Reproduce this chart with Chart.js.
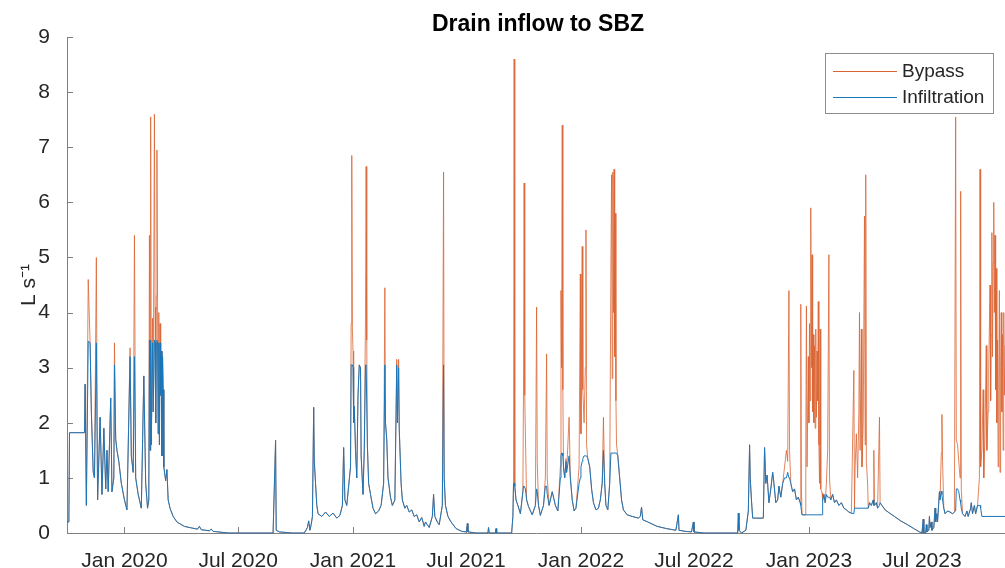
<!DOCTYPE html>
<html>
<head>
<meta charset="utf-8">
<title>Drain inflow to SBZ</title>
<script src="https://cdn.jsdelivr.net/npm/chart.js@4.4.1/dist/chart.umd.min.js"></script>
<style>
    html, body { margin: 0; padding: 0; background: #ffffff; }
    canvas { display: block; }
</style>
</head>
<body>
<canvas id="flowChart" width="1005" height="568"></canvas>
<script>
// Datos de la serie
    // Los días se cuentan desde startDate; cada par es [día, caudal en L/s]
    const startDate = '2019-10-01';
    const lastDay = 1502;

    const tickDates = ['2020-01-01', '2020-07-01', '2021-01-01', '2021-07-01', '2022-01-01', '2022-07-01', '2023-01-01', '2023-07-01'];
    const tickLabels = ['Jan 2020', 'Jul 2020', 'Jan 2021', 'Jul 2021', 'Jan 2022', 'Jul 2022', 'Jan 2023', 'Jul 2023'];

    // Caudal de infiltración
    const infiltration = [
        [0, 0.2], [3, 0.2], [4, 1.82], [28, 1.82], [29, 2.7], [31, 0.5], [34, 3.48], [37, 3.45], [39, 2.2], [42, 1.1],
        [44, 1.0], [47, 3.45], [49, 0.6], [53, 2.1], [56, 0.7], [59, 1.9], [62, 0.8], [64, 1.5], [66, 0.75], [70, 2.45],
        [72, 0.75], [75, 1.0], [76, 3.05], [78, 1.7], [80, 1.5], [83, 1.3], [87, 0.9], [92, 0.6], [96, 0.42], [101, 3.2],
        [103, 1.4], [106, 1.1], [108, 3.2], [110, 1.0], [114, 0.7], [119, 0.45], [123, 2.85], [126, 0.9], [129, 0.45],
        [131, 0.6], [132, 3.5], [133, 1.5], [134, 3.5], [135, 1.6], [137, 3.45], [138, 2.2], [140, 3.5], [141, 3.45],
        [142, 2.0], [143, 3.45], [144, 3.5], [145, 3.45], [146, 1.8], [147, 3.45], [148, 1.6], [149, 3.45], [150, 2.5],
        [151, 3.3], [152, 1.4], [153, 3.2], [154, 2.6], [155, 1.2], [158, 0.95], [160, 1.15], [162, 0.6], [165, 0.45],
        [170, 0.3], [176, 0.2], [188, 0.12], [200, 0.09], [209, 0.07], [212, 0.12], [215, 0.06], [228, 0.04], [231, 0.07],
        [234, 0.03], [250, 0.01], [260, 0],

        [330, 0], [334, 1.68], [335, 0.05], [340, 0.02], [360, 0], [380, 0], [385, 0.1], [387, 0.22], [389, 0.05],
        [391, 0.15], [393, 0.3], [395, 2.28], [396, 1.3], [398, 0.9], [400, 0.5], [402, 0.35], [408, 0.3], [414, 0.38],
        [420, 0.3], [426, 0.36], [432, 0.27], [437, 0.32], [441, 0.5], [443, 1.55], [445, 0.6], [448, 0.5], [454, 1.2],
        [455, 3.05], [456, 3.05], [457, 3.05], [458, 3.0], [459, 2.0], [460, 2.3], [462, 1.5], [464, 1.0], [466, 2.5],
        [468, 3.05], [470, 3.0], [471, 1.4], [474, 0.7], [476, 1.5], [478, 3.05], [479, 3.05], [480, 3.05], [481, 1.6],
        [483, 0.9], [486, 0.7], [490, 0.45], [494, 0.35], [499, 0.4], [503, 0.5], [507, 0.9], [509, 3.05], [510, 2.0],
        [512, 1.7], [514, 1.0], [518, 0.65], [521, 0.5], [525, 0.6], [528, 3.05], [529, 2.0], [531, 3.0], [532, 1.9],
        [535, 0.9], [537, 0.6], [541, 0.45], [544, 0.5], [548, 0.38], [552, 0.42], [556, 0.3], [560, 0.33], [564, 0.2],
        [568, 0.28], [572, 0.12], [574, 0.2], [577, 0.15], [580, 0.1], [585, 0.3], [587, 0.7], [589, 0.3], [593, 0.2],
        [596, 0.15], [601, 0.5], [603, 3.05], [604, 1.0], [606, 0.5], [610, 0.3], [615, 0.2], [623, 0.08], [632, 0.03],
        [640, 0.02], [641, 0.17], [642, 0.02], [655, 0], [674, 0], [675, 0.1], [676, 0], [686, 0], [687, 0.08], [688, 0],

        [712, 0], [714, 0.3], [715, 0.9], [716, 0.9], [717, 0.85], [719, 0.6], [722, 0.5], [726, 0.35], [730, 0.75],
        [731, 0.85], [732, 0.85], [733, 0.85], [734, 0.8], [736, 0.6], [739, 0.48], [745, 0.33], [750, 0.5], [752, 0.8],
        [753, 0.75], [755, 0.5], [758, 0.32], [763, 0.5], [766, 0.85], [768, 0.85], [769, 0.7], [772, 0.5], [777, 0.75],
        [782, 0.5], [786, 0.4], [790, 1.0], [791, 1.4], [792, 1.45], [793, 1.45], [794, 1.4], [795, 1.2], [797, 1.0],
        [799, 1.3], [800, 1.1], [804, 1.4], [806, 1.0], [809, 0.6], [812, 0.4], [815, 0.45], [820, 0.9], [822, 1.0],
        [823, 1.2], [825, 1.3], [826, 1.35], [828, 1.4], [830, 1.4], [831, 1.4], [832, 1.4], [834, 1.35], [837, 1.2],
        [840, 0.8], [843, 0.55], [847, 0.42], [851, 0.45], [854, 0.6], [857, 0.9], [859, 1.5], [861, 0.9], [863, 0.5],
        [866, 0.42], [869, 0.9], [871, 1.45], [880, 1.45], [882, 1.4], [885, 1.0], [888, 0.6], [891, 0.42], [897, 0.33],
        [905, 0.3], [915, 0.27], [918, 0.3], [920, 0.47], [922, 0.24], [930, 0.2], [945, 0.12], [960, 0.08], [975, 0.05],
        [979, 0.33], [980, 0.05], [990, 0.03], [1000, 0.02], [1003, 0.2], [1004, 0.02], [1020, 0],

        [1074, 0], [1075, 0.36], [1076, 0.05], [1080, 0], [1087, 0.05], [1091, 0.4], [1093, 1.6], [1094, 1.0], [1096, 0.6],
        [1098, 0.27], [1115, 0.27], [1117, 1.55], [1119, 0.9], [1121, 1.05], [1124, 0.55], [1127, 0.8], [1130, 1.1],
        [1132, 0.9], [1135, 0.55], [1138, 0.6], [1140, 0.85], [1143, 0.65], [1146, 0.9], [1149, 1.0], [1152, 1.0],
        [1154, 1.1], [1156, 1.0], [1157, 1.0], [1159, 0.9], [1162, 0.75], [1165, 0.8], [1168, 0.6], [1171, 0.65],
        [1174, 0.55], [1175, 0.5], [1176, 0.4], [1177, 0.33], [1182, 0.33], [1209, 0.33], [1210, 0.6], [1212, 0.7],
        [1214, 0.55], [1216, 0.7], [1218, 0.65], [1220, 0.65], [1221, 0.65], [1223, 0.6], [1226, 0.7], [1229, 0.55],
        [1232, 0.6], [1236, 0.5], [1240, 0.55], [1244, 0.45], [1248, 0.42], [1252, 0.38], [1256, 0.36], [1260, 0.35],
        [1261, 0.45], [1283, 0.45], [1285, 0.55], [1288, 0.5], [1291, 0.6], [1292, 0.5], [1293, 0.5], [1296, 0.55],
        [1298, 0.45], [1301, 0.5], [1302, 0.55], [1305, 0.5], [1310, 0.42], [1316, 0.37], [1325, 0.3], [1335, 0.22],
        [1346, 0.15], [1356, 0.08], [1365, 0.02], [1369, 0], [1371, 0.25], [1372, 0], [1375, 0], [1376, 0.15],
        [1377, 0.02], [1380, 0.05], [1381, 0.3], [1382, 0.1], [1384, 0.2], [1385, 0.05], [1388, 0.1], [1390, 0.45],
        [1391, 0.2], [1393, 0.35], [1394, 0.2], [1397, 0.75], [1398, 0.6], [1400, 0.76], [1401, 0.7], [1402, 0.6],
        [1404, 0.45], [1406, 0.35], [1410, 0.4], [1414, 0.38], [1418, 0.35], [1421, 0.38], [1423, 0.4], [1424, 0.8],
        [1426, 0.8], [1428, 0.75], [1430, 0.6], [1431, 0.55], [1432, 0.45], [1434, 0.35], [1438, 0.3], [1441, 0.4],
        [1443, 0.3], [1447, 0.45], [1448, 0.55], [1450, 0.35], [1453, 0.5], [1455, 0.35], [1458, 0.5], [1461, 0.5],
        [1462, 0.5], [1463, 0.45], [1465, 0.3], [1502, 0.3]
    ];

    // Caudal total con bypass, sólo en los días en que supera a la infiltración
    const bypass = [
        [34, 4.6], [47, 5.0], [76, 3.45], [101, 3.36], [108, 5.4], [132, 5.4], [134, 7.55], [137, 3.9], [140, 7.6],
        [141, 4.1], [143, 4.3], [144, 6.95], [145, 4.2], [147, 4.0], [149, 3.8],

        [455, 3.8], [456, 6.85], [457, 3.7], [458, 3.3], [478, 3.95], [479, 6.65], [480, 3.5], [509, 4.45], [528, 3.15],
        [531, 3.15], [603, 6.55],

        [716, 8.6], [731, 2.67], [732, 6.35], [733, 2.5], [734, 1.8], [752, 4.1], [753, 1.3], [766, 1.0], [768, 3.25],
        [769, 1.0], [790, 1.2], [791, 4.4], [792, 3.0], [793, 7.4], [794, 2.6], [799, 1.35], [804, 2.1], [820, 1.2],
        [822, 4.7], [823, 1.8], [825, 5.2], [826, 2.6], [828, 2.0], [830, 3.0], [831, 5.5], [832, 1.6], [859, 2.1],
        [871, 4.9], [872, 6.5], [873, 2.8], [874, 6.55], [875, 4.0], [876, 6.6], [877, 3.2], [878, 5.8], [879, 2.4],
        [880, 1.6],

        [1149, 1.2], [1152, 1.5], [1154, 1.3], [1156, 4.4], [1157, 1.5], [1175, 4.15], [1176, 0.8], [1183, 1.5],
        [1184, 4.12], [1185, 1.2], [1187, 3.2], [1188, 2.0], [1189, 3.8], [1190, 2.4], [1191, 5.9], [1192, 3.0],
        [1193, 5.05], [1194, 2.2], [1195, 3.6], [1196, 2.0], [1197, 3.4], [1198, 1.9], [1199, 3.7], [1200, 2.1],
        [1201, 3.3], [1202, 2.4], [1203, 4.2], [1204, 1.6], [1205, 0.9], [1206, 3.7], [1207, 0.8], [1209, 0.73],
        [1216, 0.9], [1218, 1.5], [1220, 5.05], [1221, 1.0], [1260, 2.95], [1262, 1.2], [1264, 1.8], [1266, 1.0],
        [1268, 2.2], [1269, 4.0], [1270, 1.5], [1272, 3.7], [1273, 1.2], [1275, 2.0], [1277, 5.75], [1278, 1.6],
        [1279, 6.5], [1280, 1.3], [1282, 0.9], [1292, 1.5], [1301, 2.1], [1400, 1.45], [1401, 2.15], [1402, 1.3],
        [1423, 7.55], [1424, 1.7], [1426, 1.6], [1428, 1.3], [1430, 1.0], [1431, 6.2], [1432, 0.8], [1461, 1.0],
        [1462, 6.6], [1463, 1.2], [1465, 1.5], [1467, 2.6], [1468, 1.0], [1470, 1.8], [1472, 3.4], [1473, 1.5],
        [1475, 2.2], [1476, 3.0], [1478, 4.5], [1479, 2.4], [1480, 3.6], [1481, 5.45], [1482, 3.2], [1483, 4.9],
        [1484, 6.0], [1485, 4.0], [1486, 5.4], [1487, 2.6], [1488, 4.8], [1489, 2.0], [1490, 3.5], [1491, 1.2],
        [1492, 2.8], [1493, 4.4], [1494, 1.1], [1495, 3.0], [1496, 4.0], [1497, 2.2], [1498, 3.6], [1499, 1.5],
        [1500, 4.0], [1501, 2.5], [1502, 3.4]
    ];


// Preparación de las series
    // La línea de bypass sigue a la infiltración salvo en los días con pico
    const dayOf = (iso) => (Date.parse(iso) - Date.parse(startDate)) / 864e5;
    const tickDays = tickDates.map(dayOf);

    const infilMap = new Map(infiltration);
    const bypassMap = new Map(bypass);
    const allDays = [...new Set(infiltration.map(p => p[0]).concat(bypass.map(p => p[0])))].sort((a, b) => a - b);

    const infilSeries = infiltration.map(([d, v]) => ({ x: d, y: v }));
    const bypassSeries = allDays.map(d => ({ x: d, y: bypassMap.has(d) ? bypassMap.get(d) : infilMap.get(d) }));

    const fontFamily = "'Liberation Sans', Arial, Helvetica, sans-serif";
    const textColor = '#262626';
    const axisColor = '#808080';


// Plugin de decoración
    // Marcas de eje hacia dentro, título centrado sobre el área del gráfico y leyenda con recuadro
    const decorPlugin = {
        id: 'decor',
        beforeDatasetsDraw(chart) {
            const { ctx, chartArea, scales } = chart;
            ctx.save();
            ctx.strokeStyle = axisColor;
            ctx.lineWidth = 1;
            ctx.beginPath();
            scales.y.ticks.forEach(t => {
                const y = Math.round(scales.y.getPixelForValue(t.value)) + 0.5;
                ctx.moveTo(chartArea.left, y);
                ctx.lineTo(chartArea.left + 6, y);
            });
            scales.x.ticks.forEach(t => {
                const x = Math.round(scales.x.getPixelForValue(t.value)) + 0.5;
                ctx.moveTo(x, chartArea.bottom);
                ctx.lineTo(x, chartArea.bottom - 6);
            });
            ctx.stroke();
            ctx.restore();
        },
        afterDraw(chart) {
            const { ctx, chartArea } = chart;
            ctx.save();

            ctx.fillStyle = '#000000';
            ctx.font = 'bold 23px ' + fontFamily;
            ctx.textAlign = 'center';
            ctx.textBaseline = 'alphabetic';
            ctx.fillText('Drain inflow to SBZ', (chartArea.left + chartArea.right) / 2 + 2, 31);

            const box = { x: 825.5, y: 53.5, w: 168, h: 60 };
            ctx.fillStyle = '#ffffff';
            ctx.fillRect(box.x, box.y, box.w, box.h);
            ctx.strokeStyle = '#8c8c8c';
            ctx.lineWidth = 1;
            ctx.strokeRect(box.x, box.y, box.w, box.h);

            const rows = [71, 97];
            ctx.font = '19px ' + fontFamily;
            ctx.textAlign = 'left';
            ctx.textBaseline = 'middle';
            chart.data.datasets.forEach((ds, i) => {
                ctx.strokeStyle = ds.borderColor;
                ctx.lineWidth = 1;
                ctx.beginPath();
                ctx.moveTo(833, rows[i] + 0.5);
                ctx.lineTo(897, rows[i] + 0.5);
                ctx.stroke();
                ctx.fillStyle = textColor;
                ctx.fillText(ds.label, 902, rows[i] + 1);
            });
            ctx.restore();
        }
    };


// Gráfico de Líneas
    // Bypass detrás, infiltración delante, sobre un eje x lineal en días
    const ctxFlow = document.getElementById('flowChart').getContext('2d');
    const flowChart = new Chart(ctxFlow, {
        type: 'line',
        data: {
            datasets: [{
                label: 'Bypass',
                data: bypassSeries,
                borderColor: '#DB6434',
                borderWidth: 0.8,
                pointRadius: 0,
                tension: 0,
                fill: false,
                order: 1,
                clip: { left: 1, top: 0, right: 0, bottom: 2 }
            }, {
                label: 'Infiltration',
                data: infilSeries,
                borderColor: '#1A76BA',
                borderWidth: 1,
                pointRadius: 0,
                tension: 0,
                fill: false,
                order: 0,
                clip: { left: 1, top: 0, right: 0, bottom: 2 }
            }]
        },
        options: {
            responsive: false,
            animation: false,
            events: [],
            parsing: false,
            layout: { padding: { top: 37, right: 0, bottom: 0, left: 0 } },
            plugins: {
                legend: { display: false },
                tooltip: { enabled: false },
                title: { display: false }
            },
            scales: {
                x: {
                    type: 'linear',
                    min: 0,
                    max: lastDay,
                    afterBuildTicks: (scale) => { scale.ticks = tickDays.map(v => ({ value: v })); },
                    afterFit: (scale) => { scale.height = 35; },
                    grid: { display: false },
                    border: { display: true, color: axisColor, width: 1 },
                    ticks: {
                        autoSkip: false,
                        maxRotation: 0,
                        padding: 8,
                        color: textColor,
                        font: { family: fontFamily, size: 21 },
                        callback: (value, index) => tickLabels[index]
                    }
                },
                y: {
                    min: 0,
                    max: 9,
                    afterFit: (scale) => { scale.width = 67; },
                    grid: { display: false },
                    border: { display: true, color: axisColor, width: 1 },
                    ticks: {
                        stepSize: 1,
                        padding: 9,
                        color: textColor,
                        font: { family: fontFamily, size: 21 }
                    },
                    title: {
                        display: true,
                        text: 'L s\u207B\u00B9',
                        color: textColor,
                        font: { family: fontFamily, size: 21 },
                        padding: { top: 17, bottom: 0 }
                    }
                }
            }
        },
        plugins: [decorPlugin]
    });
</script>
</body>
</html>
